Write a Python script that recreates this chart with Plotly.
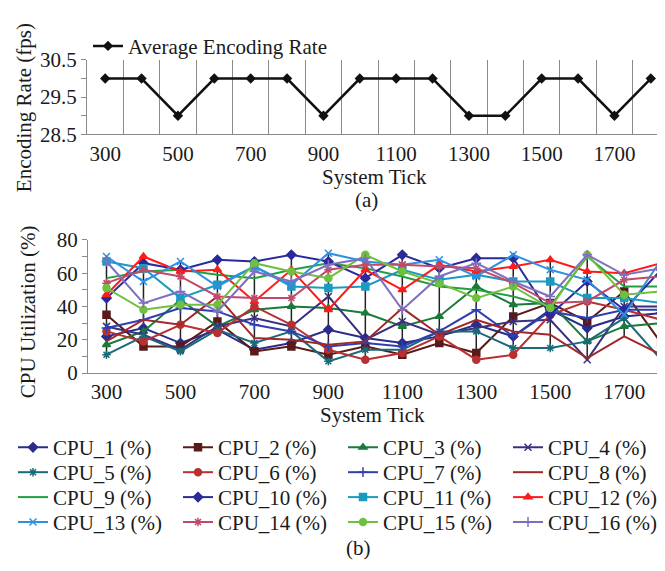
import plotly.graph_objects as go

ticks_x = [300, 400, 500, 600, 700, 800, 900, 1000, 1100, 1200, 1300, 1400, 1500, 1600, 1700, 1800]
tick_labels = [300, 500, 700, 900, 1100, 1300, 1500, 1700]
enc_rate = [30, 30, 29, 30, 30, 30, 29, 30, 30, 30, 29, 29, 30, 30, 29, 30]

cpu_names = [f"CPU_{i} (%)" for i in range(1, 17)]
cpu_1 = [22, 27, 18, 26, 14, 18, 26, 21, 18, 22, 29, 22, 38, 27, 34, 36]
cpu_2 = [35, 16, 16, 31, 13, 16, 11, 16, 11, 18, 12, 34, 42, 31, 49, 18]
cpu_3 = [17, 25, 44, 28, 38, 40, 39, 36, 28, 34, 52, 41, 42, 19, 28, 30]
cpu_4 = [28, 23, 14, 28, 33, 28, 46, 20, 31, 23, 27, 31, 32, 8, 40, 40]
cpu_5 = [11, 22, 13, 26, 18, 25, 7, 14, 14, 25, 25, 15, 15, 19, 33, 8]
cpu_6 = [25, 19, 29, 24, 40, 29, 14, 8, 12, 22, 8, 11, 35, 43, 38, 32]
cpu_7 = [27, 32, 39, 37, 29, 25, 16, 18, 16, 25, 38, 22, 37, 33, 38, 38]
cpu_8 = [19, 32, 29, 46, 21, 20, 17, 19, 39, 23, 32, 25, 23, 9, 22, 11]
cpu_9 = [57, 61, 62, 59, 57, 62, 66, 63, 58, 52, 50, 46, 40, 70, 52, 52]
cpu_10 = [45, 66, 62, 68, 67, 71, 67, 57, 71, 63, 69, 69, 35, 55, 38, 62]
cpu_11 = [67, 63, 45, 53, 64, 52, 51, 52, 62, 56, 59, 55, 55, 45, 45, 42]
cpu_12 = [47, 70, 61, 62, 43, 62, 38, 62, 50, 65, 61, 64, 68, 61, 60, 66]
cpu_13 = [70, 55, 67, 52, 64, 53, 72, 67, 65, 68, 58, 71, 62, 56, 35, 68]
cpu_14 = [54, 62, 58, 46, 45, 45, 62, 65, 65, 64, 63, 54, 42, 43, 56, 58]
cpu_15 = [51, 38, 41, 41, 66, 61, 57, 71, 61, 54, 45, 52, 39, 71, 47, 49]
cpu_16 = [67, 42, 49, 37, 61, 55, 65, 69, 38, 58, 66, 55, 46, 71, 59, 63]
cpu_values = [cpu_1, cpu_2, cpu_3, cpu_4, cpu_5, cpu_6, cpu_7, cpu_8,
              cpu_9, cpu_10, cpu_11, cpu_12, cpu_13, cpu_14, cpu_15, cpu_16]

colors = ["#2B2B8C", "#5A1A1A", "#1A7A3A", "#3A2F80", "#1A6A7A", "#B83030", "#2F3FB0", "#A02828",
          "#22A040", "#2A2A9A", "#1A9AC0", "#FF1A1A", "#3090E0", "#C04A6A", "#70C040", "#7F6FBF"]
symbols = ["diamond", "square", "triangle-up", "x-thin-open", "asterisk-open", "circle", "cross-thin-open", None,
           None, "diamond", "square", "triangle-up", "x-thin-open", "asterisk-open", "circle", "cross-thin-open"]

FONT = "Liberation Serif"
W, H = 665, 571

def px(x):
    return x / W

def py(y):
    return 1 - y / H

fig = go.Figure()

# Top chart
fig.add_trace(go.Scatter(
    x=ticks_x, y=enc_rate, mode="lines+markers", name="Average Encoding Rate",
    line=dict(color="#111111", width=2.5), marker=dict(symbol="diamond", size=8, color="#111111"),
    xaxis="x", yaxis="y", legend="legend"))

# high-low lines in bottom chart
hl_x, hl_y = [], []
for i, xv in enumerate(ticks_x):
    col = [s[i] for s in cpu_values]
    hl_x += [xv, xv, None]
    hl_y += [min(col), max(col), None]
fig.add_trace(go.Scatter(x=hl_x, y=hl_y, mode="lines", line=dict(color="#222222", width=1.5),
                         showlegend=False, hoverinfo="skip", xaxis="x2", yaxis="y2"))

for i, (name, vals) in enumerate(zip(cpu_names, cpu_values)):
    sym = symbols[i]
    row = i // 4
    kw = dict(mode="lines+markers" if sym else "lines")
    if sym:
        kw["marker"] = dict(symbol=sym, size=7, color=colors[i], line=dict(width=1.5, color=colors[i]))
    fig.add_trace(go.Scatter(x=ticks_x, y=vals, name=name, line=dict(color=colors[i], width=2),
                             xaxis="x2", yaxis="y2", legend=f"legend{row + 2}", **kw))

axis_common = dict(showline=True, linecolor="#8a8a8a", linewidth=1.2,
                   tickfont=dict(family=FONT, size=21, color="#1a1a1a"), zeroline=False)

fig.update_layout(
    width=W, height=H, margin=dict(l=0, r=0, t=0, b=0),
    paper_bgcolor="white", plot_bgcolor="white",
    font=dict(family=FONT, size=21, color="#1a1a1a"),
    xaxis=dict(domain=[px(79), px(661)], range=[250, 1850], tickmode="array", tickvals=tick_labels,
               ticks="", showgrid=False, anchor="y",
               minor=dict(tick0=350, dtick=100, showgrid=True, gridcolor="#8a8a8a", gridwidth=1, ticks=""),
               **axis_common),
    yaxis=dict(domain=[py(119.3), py(41.7)], range=[28.5, 30.5], tickmode="array",
               tickvals=[28.5, 29.5, 30.5], ticktext=["28.5", "29.5", "30.5"],
               ticks="outside", ticklen=5, tickcolor="#8a8a8a", showgrid=False, anchor="x",
               minor=dict(tick0=28.5, dtick=0.5, ticks="outside", ticklen=5, tickcolor="#8a8a8a"),
               **axis_common),
    xaxis2=dict(domain=[px(80), 1.0], range=[250, 1832], tickmode="array", tickvals=tick_labels,
                ticks="", showgrid=False, anchor="y2", **axis_common),
    yaxis2=dict(domain=[py(368.5), py(229.5)], range=[0, 80], tickmode="linear", tick0=0, dtick=20,
                ticks="outside", ticklen=5, tickcolor="#8a8a8a", showgrid=False, anchor="x2",
                minor=dict(tick0=0, dtick=10, ticks="outside", ticklen=5, tickcolor="#8a8a8a"),
                **axis_common),
    legend=dict(x=px(80), y=py(6), xanchor="left", yanchor="top", orientation="h",
                font=dict(family=FONT, size=21), bgcolor="rgba(0,0,0,0)", itemwidth=30),
)

row_tops = [425, 451, 477, 503]
for r in range(4):
    fig.update_layout(**{f"legend{r + 2}": dict(
        x=px(8), y=py(row_tops[r]), xanchor="left", yanchor="top", orientation="h",
        entrywidth=120, entrywidthmode="pixels", itemwidth=30,
        font=dict(family=FONT, size=21), bgcolor="rgba(0,0,0,0)")})

ann = [
    dict(text="Encoding Rate (fps)", x=px(16), y=py(92), textangle=-90),
    dict(text="System Tick", x=px(366), y=py(164)),
    dict(text="(a)", x=px(358), y=py(188)),
    dict(text="CPU Utilization (%)", x=px(20), y=py(305), textangle=-90),
    dict(text="System Tick", x=px(364), y=py(412)),
    dict(text="(b)", x=px(350), y=py(551)),
]
for a in ann:
    fig.add_annotation(xref="paper", yref="paper", showarrow=False, xanchor="center", yanchor="middle",
                       font=dict(family=FONT, size=21, color="#1a1a1a"), **a)

fig.write_html("out.html")
